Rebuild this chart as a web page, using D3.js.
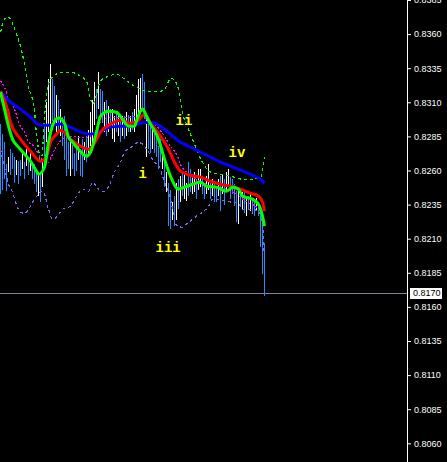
<!DOCTYPE html>
<html><head><meta charset="utf-8">
<script src="https://cdn.jsdelivr.net/npm/d3@7/dist/d3.min.js"></script>
<style>html,body{margin:0;padding:0;background:#000;overflow:hidden}</style>
</head><body><svg id="c" width="447" height="462"></svg>
<script>
// ---------- data ----------
const tickLabels = ["0.8385","0.8360","0.8335","0.8310","0.8285","0.8260","0.8235","0.8210","0.8185","0.8160","0.8135","0.8110","0.8085","0.8060"];
const lastPrice = 0.8170;

const barHigh = [0.8294,0.8287,0.8281,0.8265,0.8270,0.8276,0.8273,0.8270,0.8268,0.8267,
0.8268,0.8273,0.8266,0.8276,0.8268,0.8273,0.8266,0.8265,0.8261,0.8259,
0.8259,0.8268,0.8293,0.8310,0.8327,0.8338,0.8327,0.8322,0.8315,0.8312,
0.8305,0.8299,0.8300,0.8293,0.8281,0.8285,0.8279,0.8273,0.8278,0.8285,
0.8276,0.8283,0.8281,0.8285,0.8290,0.8303,0.8312,0.8325,0.8320,0.8332,
0.8320,0.8318,0.8310,0.8312,0.8307,0.8305,0.8305,0.8300,0.8303,0.8300,
0.8298,0.8300,0.8300,0.8303,0.8301,0.8300,0.8303,0.8305,0.8315,0.8327,
0.8328,0.8331,0.8325,0.8298,0.8295,0.8293,0.8295,0.8290,0.8288,0.8278,
0.8283,0.8276,0.8268,0.8259,0.8251,0.8246,0.8237,0.8241,0.8251,0.8254,
0.8256,0.8259,0.8259,0.8251,0.8266,0.8261,0.8257,0.8259,0.8254,0.8261,
0.8261,0.8256,0.8251,0.8256,0.8265,0.8251,0.8254,0.8250,0.8248,0.8254,
0.8256,0.8257,0.8254,0.8259,0.8261,0.8255,0.8254,0.8250,0.8245,0.8246,
0.8243,0.8244,0.8245,0.8241,0.8241,0.8243,0.8239,0.8237,0.8240,0.8237,
0.8234,0.8229,0.8207];
const barLow = [0.8243,0.8246,0.8254,0.8245,0.8259,0.8257,0.8261,0.8251,0.8257,0.8250,
0.8256,0.8261,0.8254,0.8263,0.8257,0.8260,0.8254,0.8250,0.8244,0.8241,
0.8237,0.8248,0.8263,0.8281,0.8288,0.8293,0.8296,0.8293,0.8288,0.8290,
0.8285,0.8278,0.8268,0.8256,0.8261,0.8256,0.8261,0.8256,0.8260,0.8268,
0.8256,0.8255,0.8268,0.8266,0.8273,0.8278,0.8276,0.8293,0.8298,0.8305,
0.8300,0.8295,0.8288,0.8285,0.8288,0.8293,0.8283,0.8281,0.8288,0.8285,
0.8281,0.8285,0.8283,0.8285,0.8288,0.8288,0.8290,0.8288,0.8293,0.8298,
0.8303,0.8305,0.8298,0.8270,0.8276,0.8273,0.8276,0.8273,0.8270,0.8261,
0.8266,0.8261,0.8248,0.8244,0.8219,0.8217,0.8224,0.8219,0.8224,0.8232,
0.8237,0.8241,0.8239,0.8238,0.8241,0.8244,0.8243,0.8244,0.8239,0.8246,
0.8248,0.8243,0.8239,0.8243,0.8246,0.8239,0.8241,0.8237,0.8237,0.8241,
0.8230,0.8243,0.8235,0.8244,0.8248,0.8239,0.8243,0.8234,0.8222,0.8221,
0.8234,0.8232,0.8229,0.8227,0.8232,0.8230,0.8228,0.8227,0.8230,0.8227,
0.8204,0.8184,0.8168];
const barDir = "ddddudddud"+"dudududddu"+"duduuuddud"+"uddddudddu"+"dduduuuudu"+
               "ddududuudu"+"dudududuuu"+"uddudduddd"+"dududdudud"+"uduudduudu"+
               "udduududdu"+"duduuddddu"+"dudududdud"+"ddd";

const slowIdx = [0,5,10,15,20,25,30,35,40,45,50,55,60,65,70,75,80,85,90,95,100,105,110,115,120,125,130,132];
const slowMA = [0.83181,0.83101,0.83050,0.82991,0.82932,0.82932,0.82940,0.82918,0.82881,0.82866,0.82888,0.82918,0.82925,0.82925,0.82947,0.82954,0.82925,0.82866,0.82807,0.82771,0.82734,0.82698,0.82661,0.82632,0.82602,0.82573,0.82536,0.82507];

const midIdx = [0,3,5,10,15,20,23,25,28,30,35,40,44,47,50,55,60,65,69,72,75,80,84,87,90,95,100,105,110,115,120,125,129,131,132];
const midMA = [0.83181,0.83071,0.82954,0.82830,0.82741,0.82668,0.82705,0.82807,0.82866,0.82896,0.82830,0.82778,0.82756,0.82800,0.82881,0.82940,0.82969,0.82947,0.82969,0.83013,0.82947,0.82851,0.82756,0.82661,0.82595,0.82565,0.82551,0.82521,0.82499,0.82485,0.82463,0.82434,0.82412,0.82368,0.82302];

const fastIdx = [0,2,4,6,9,12,15,18,19,22,24,27,29,32,34,36,39,43,45,48,50,54,58,61,64,67,68,70,71,73,75,79,82,85,89,92,96,100,103,108,113,116,119,121,126,129,131,132];
const fastMA = [0.83174,0.83050,0.82925,0.82830,0.82771,0.82720,0.82668,0.82595,0.82573,0.82624,0.82807,0.82962,0.82984,0.82947,0.82844,0.82807,0.82756,0.82705,0.82734,0.82881,0.82998,0.83035,0.83027,0.82976,0.82925,0.82925,0.82962,0.83035,0.83050,0.82998,0.82940,0.82830,0.82683,0.82558,0.82463,0.82478,0.82499,0.82514,0.82485,0.82478,0.82448,0.82478,0.82463,0.82412,0.82390,0.82353,0.82265,0.82192];

const dotIdx = [0,2,4,7,9,12,14,17,19,22,24,26,28,30,33,35,40,44,48,50,55,60,65,69,73,78,82,85,88,90,93,98,103,108,113,118,123,128,131];
const dotMA = [0.83255,0.83211,0.83123,0.83050,0.82954,0.82881,0.82815,0.82771,0.82720,0.82668,0.82661,0.82720,0.82778,0.82815,0.82844,0.82851,0.82844,0.82844,0.82903,0.82954,0.82991,0.82991,0.82991,0.82998,0.82976,0.82925,0.82851,0.82778,0.82720,0.82646,0.82588,0.82536,0.82499,0.82478,0.82463,0.82426,0.82368,0.82331,0.82279];

const upIdx = [0,2,4,5,8,10,12,14,17,18,19,20,21,22,23,25,28,30,35,40,43,45,46,48,49,51,54,58,62,67,70,75,80,83,85,87,89,90,91,93,96,98,101,105,110,115,121,126,130,131,132];
const upBand = [0.83614,0.83709,0.83724,0.83709,0.83599,0.83511,0.83379,0.83218,0.83035,0.82866,0.82756,0.82661,0.82741,0.82991,0.83145,0.83270,0.83306,0.83321,0.83321,0.83291,0.83255,0.83123,0.83086,0.83159,0.83218,0.83270,0.83291,0.83306,0.83270,0.83218,0.83196,0.83181,0.83181,0.83218,0.83277,0.83262,0.83196,0.83123,0.83027,0.82940,0.82830,0.82756,0.82661,0.82588,0.82573,0.82558,0.82536,0.82536,0.82551,0.82610,0.82698];

const loIdx = [0,2,4,6,8,10,12,14,17,19,21,22,24,26,28,31,35,38,41,44,46,48,50,52,55,57,60,62,66,69,71,74,77,80,81,83,85,86,87,88,91,93,96,98,101,104,106,109,112,116,119,121,125,129,131,132];
const loBand = [0.82756,0.82624,0.82499,0.82441,0.82346,0.82294,0.82287,0.82316,0.82390,0.82426,0.82448,0.82426,0.82316,0.82243,0.82258,0.82316,0.82338,0.82412,0.82463,0.82448,0.82514,0.82485,0.82448,0.82448,0.82514,0.82588,0.82661,0.82734,0.82778,0.82807,0.82793,0.82734,0.82661,0.82610,0.82558,0.82478,0.82390,0.82316,0.82243,0.82199,0.82184,0.82206,0.82243,0.82265,0.82294,0.82338,0.82390,0.82390,0.82375,0.82368,0.82360,0.82316,0.82316,0.82302,0.82206,0.81935];

const waveText = ["i","ii","iii","iv"];
const waveIdx = [69,87.5,77.5,114];
const wavePrice = [0.82544,0.82932,0.82001,0.82698];

// ---------- drawing ----------
const W = 447, H = 462, axisX = 407;
const svg = d3.select("#c");
svg.append("rect").attr("width", W).attr("height", H).attr("fill", "#000");

const y = d3.scaleLinear().domain([0.8060, 0.8360]).range([443.3, 34.1]);
const x = d3.scaleLinear().domain([0, 132]).range([0.5, 264.5]);

svg.append("defs").append("clipPath").attr("id", "plot")
  .append("rect").attr("x", 0).attr("y", 0).attr("width", axisX).attr("height", H);
const g = svg.append("g").attr("clip-path", "url(#plot)");

// last price line
g.append("line").attr("x1", 0).attr("x2", axisX)
  .attr("y1", Math.round(y(lastPrice)) + 0.5).attr("y2", Math.round(y(lastPrice)) + 0.5)
  .attr("stroke", "#778899").attr("stroke-width", 1);

// bars
g.append("g").selectAll("line").data(barHigh.map((h, i) => ({i, h, l: barLow[i], d: barDir[i]})))
  .join("line")
  .attr("x1", d => x(d.i)).attr("x2", d => x(d.i))
  .attr("y1", d => y(d.h)).attr("y2", d => y(d.l))
  .attr("stroke", d => d.d === "u" ? "#ffffff" : "#1e90ff")
  .attr("stroke-width", 1).attr("shape-rendering", "crispEdges");

const line = d3.line().x(d => x(d[0])).y(d => y(d[1])).curve(d3.curveMonotoneX);
function series(idx, vals, color, width, dash, crisp) {
  g.append("path").datum(idx.map((k, j) => [k, vals[j]]))
    .attr("d", line).attr("fill", "none").attr("stroke", color)
    .attr("stroke-width", width).attr("stroke-dasharray", dash || null)
    .attr("stroke-linejoin", "round")
    .attr("shape-rendering", crisp ? "crispEdges" : null);
}
series(upIdx, upBand, "#00ff00", 1.2, "3,3", true);
series(loIdx, loBand, "#7b68ee", 1.2, "3,3", true);
series(dotIdx, dotMA, "#ff00ff", 1.2, "2,2", true);
series(slowIdx, slowMA, "#0000ff", 3);
series(midIdx, midMA, "#ff0000", 3);
series(fastIdx, fastMA, "#00ff00", 3);

// wave labels
g.append("g").selectAll("text").data(waveText).join("text")
  .attr("x", (d, i) => x(waveIdx[i])).attr("y", (d, i) => y(wavePrice[i]))
  .attr("fill", "#ffff00").attr("font-family", "'Liberation Mono', 'Courier New', monospace")
  .attr("font-weight", "bold").attr("font-size", 14).text(d => d);

// right axis
svg.append("line").attr("x1", axisX + 0.5).attr("x2", axisX + 0.5).attr("y1", 0).attr("y2", H)
  .attr("stroke", "#ffffff").attr("stroke-width", 1);
const axis = d3.axisRight(y).tickValues(tickLabels.map(Number)).tickFormat(d3.format(".4f"))
  .tickSize(3).tickPadding(3);
const ag = svg.append("g").attr("transform", `translate(${axisX + 1},0)`).call(axis);
ag.select(".domain").remove();
ag.selectAll(".tick line").attr("stroke", "#ffffff");
ag.selectAll(".tick text").attr("fill", "#ffffff")
  .attr("font-family", "'Liberation Sans', Arial, sans-serif").attr("font-size", 9);

// last price box
const ly = y(lastPrice);
svg.append("rect").attr("x", 410).attr("y", Math.round(ly) - 5).attr("width", 32).attr("height", 11)
  .attr("fill", "#ffffff");
svg.append("text").attr("x", 413).attr("y", ly).attr("dy", "0.35em")
  .attr("fill", "#000").attr("font-family", "'Liberation Sans', Arial, sans-serif")
  .attr("font-size", 9).text(d3.format(".4f")(lastPrice));
</script></body></html>
